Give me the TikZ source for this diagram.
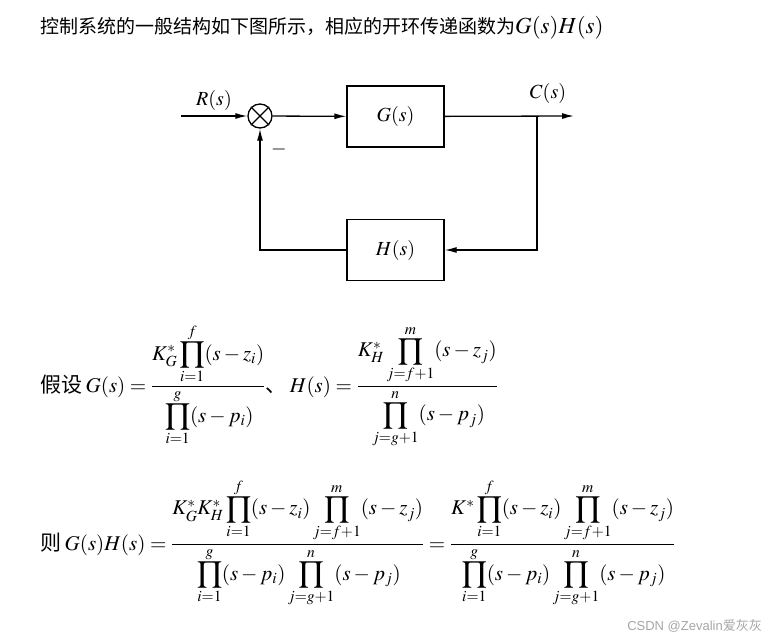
\documentclass[tikz,border=0pt]{standalone}
\usepackage{amsmath}
\usepackage{mathptmx}
\usepackage{fontspec}
\newfontfamily\cjk{Noto Sans CJK SC}
\newfontfamily\wmfont{Liberation Sans}
\usetikzlibrary{arrows.meta, positioning}

\begin{document}
\begin{tikzpicture}[
        x=1pt, y=-1pt,
        block/.style={rectangle, draw=black, line width=1.3pt, minimum width=97pt, minimum height=61pt, inner sep=0pt, font=\fontsize{20}{24}\selectfont},
        sumnode/.style={circle, draw=black, line width=1.3pt, minimum size=24pt, inner sep=0pt},
        arrow/.style={-{Latex[length=12pt, width=6pt]}, line width=1.3pt},
        labelnode/.style={font=\fontsize{20}{24}\selectfont, inner sep=0pt},
        formula/.style={font=\fontsize{21}{25}\selectfont, inner sep=0pt, anchor=base west}
    ]
        \useasboundingbox (0,0) rectangle (774,640);

        % Title
        \node[formula, font=\fontsize{19}{23}\selectfont] (title) at (40,33) {\cjk 控制系统的一般结构如下图所示，相应的开环传递函数为{\fontsize{23}{27}\selectfont$G(s)H(s)$}};

        % Nodes
        \node (sum) [sumnode] at (260,116) {};
        \draw[line width=1.1pt] (sum.north west) -- (sum.south east) (sum.north east) -- (sum.south west);
        \node (G) [block] at (395.5,116.5) {$G(s)$};
        \node (H) [block] at (395.5,250) {$H(s)$};
        \coordinate (in) at (181,116);
        \coordinate (out) at (574,116);
        \coordinate (branch) at (537,116);

        \node (R) [labelnode] at (214,100) {$R(s)$};
        \node (C) [labelnode] at (548,93) {$C(s)$};
        \node (minus) [labelnode] at (279,149) {$-$};

        % Arrows
        \draw [arrow] (in) -- (sum);
        \draw [arrow] (sum) -- (G);
        \draw [arrow] (G) -- (out);
        \draw [arrow] (branch) |- (H);
        \draw [arrow] (H) -| (sum);

        % Formulas
        \node[formula] (assume) at (40,392) {\cjk 假设\,$G(s)=\dfrac{K_G^*\displaystyle\prod_{i=1}^{f}(s-z_i)\rule[-18pt]{0pt}{0pt}}{\rule{0pt}{26pt}\displaystyle\prod_{i=1}^{g}(s-p_i)}$、\,$H(s)=\dfrac{K_H^*\displaystyle\prod_{j=f+1}^{m}(s-z_j)\rule[-18pt]{0pt}{0pt}}{\rule{0pt}{26pt}\displaystyle\prod_{j=g+1}^{n}(s-p_j)}$};
        \node[formula] (result) at (40,550) {\cjk 则\,$G(s)H(s)=\dfrac{K_G^*K_H^*\displaystyle\prod_{i=1}^{f}(s-z_i)\prod_{j=f+1}^{m}(s-z_j)\rule[-18pt]{0pt}{0pt}}{\rule{0pt}{26pt}\displaystyle\prod_{i=1}^{g}(s-p_i)\prod_{j=g+1}^{n}(s-p_j)}=\dfrac{K^*\displaystyle\prod_{i=1}^{f}(s-z_i)\prod_{j=f+1}^{m}(s-z_j)\rule[-18pt]{0pt}{0pt}}{\rule{0pt}{26pt}\displaystyle\prod_{i=1}^{g}(s-p_i)\prod_{j=g+1}^{n}(s-p_j)}$};

        % Watermark
        \node[anchor=base east, inner sep=0pt, text=black!35, font=\fontsize{13}{15}\selectfont] (mark) at (762,630) {\wmfont CSDN @Zevalin\cjk 爱灰灰};
\end{tikzpicture}
\end{document}
